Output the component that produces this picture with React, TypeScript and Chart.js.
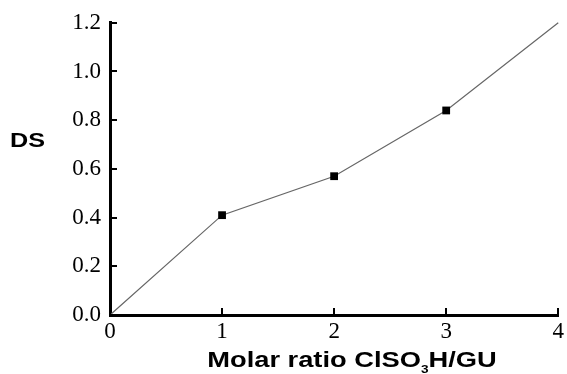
import React, { useEffect, useRef } from "react";
import { Chart, registerables } from "chart.js";

Chart.register(...registerables);

const xValues = [0, 1, 2, 3, 4];
const dsValues = [0, 0.41, 0.57, 0.84, 1.2];
const markerRadii = [0, 5.5, 5.5, 5.5, 0];
const yTicks = [0, 0.2, 0.4, 0.6, 0.8, 1.0, 1.2];
const xTicks = [0, 1, 2, 3, 4];

const SANS = "'Liberation Sans', Arial, sans-serif";

const overlay = {
  id: "overlay",
  afterDraw(chart: any) {
    const ctx = chart.ctx;
    const xs = chart.scales.x;
    const ys = chart.scales.y;
    const area = chart.chartArea;
    ctx.save();
    ctx.strokeStyle = "#000";
    ctx.lineWidth = 2;
    // inward ticks
    yTicks.forEach((v) => {
      const py = Math.round(ys.getPixelForValue(v));
      ctx.beginPath();
      ctx.moveTo(area.left, py);
      ctx.lineTo(area.left + 7, py);
      ctx.stroke();
    });
    xTicks.forEach((v) => {
      const px = Math.round(xs.getPixelForValue(v));
      ctx.beginPath();
      ctx.moveTo(px, area.bottom);
      ctx.lineTo(px, area.bottom - 7);
      ctx.stroke();
    });
    ctx.fillStyle = "#000";
    ctx.textBaseline = "alphabetic";
    ctx.textAlign = "left";
    // y title (horizontal, stretched like the reference)
    ctx.save();
    ctx.translate(10, 147);
    ctx.scale(1.2, 1);
    ctx.font = "bold 21px " + SANS;
    ctx.fillText("DS", 0, 0);
    ctx.restore();
    // x title with subscript
    const sx = 1.24;
    ctx.save();
    ctx.font = "bold 22px " + SANS;
    const p1 = "Molar ratio ClSO";
    const p2 = "H/GU";
    const w1 = ctx.measureText(p1).width;
    const w2 = ctx.measureText(p2).width;
    ctx.font = "bold 11px " + SANS;
    const w3 = ctx.measureText("3").width;
    const total = (w1 + w2 + w3) * sx;
    const x0 = 208 + (288 - total) / 2;
    ctx.translate(x0, 367);
    ctx.scale(sx, 1);
    ctx.font = "bold 22px " + SANS;
    ctx.fillText(p1, 0, 0);
    ctx.font = "bold 11px " + SANS;
    ctx.fillText("3", w1, 6);
    ctx.font = "bold 22px " + SANS;
    ctx.fillText(p2, w1 + w3, 0);
    ctx.restore();
    ctx.restore();
  },
};

export default function App() {
  const ref = useRef<HTMLCanvasElement>(null);
  useEffect(() => {
    document.body.style.margin = "0";
    const chart = new Chart(ref.current!, {
      type: "line",
      data: {
        datasets: [
          {
            data: xValues.map((x, i) => ({ x, y: dsValues[i] })),
            borderColor: "#666",
            borderWidth: 1.2,
            pointStyle: "rect",
            pointRadius: markerRadii,
            pointBackgroundColor: "#000",
            pointBorderColor: "#000",
            pointBorderWidth: 0,
            tension: 0,
            clip: false as any,
          },
        ],
      },
      options: {
        animation: false,
        responsive: false,
        maintainAspectRatio: false,
        layout: { padding: { top: 22, right: 6, left: 0, bottom: 0 } },
        plugins: { legend: { display: false }, tooltip: { enabled: false } },
        scales: {
          x: {
            type: "linear",
            min: 0,
            max: 4,
            afterFit: (s: any) => {
              s.height = 59;
            },
            afterBuildTicks: (s: any) => {
              s.ticks = xTicks.map((v) => ({ value: v }));
            },
            grid: { display: true, drawOnChartArea: false, drawTicks: false },
            border: { display: true, color: "#000", width: 3 },
            ticks: {
              padding: 3,
              color: "#000",
              font: { family: "'Liberation Serif', 'Times New Roman', serif", size: 23 },
              callback: (v: any) => String(v),
            },
          },
          y: {
            type: "linear",
            min: 0,
            max: 1.2,
            afterFit: (s: any) => {
              s.width = 110;
            },
            afterBuildTicks: (s: any) => {
              s.ticks = yTicks.map((v) => ({ value: v }));
            },
            grid: { display: true, drawOnChartArea: false, drawTicks: false },
            border: { display: true, color: "#000", width: 3 },
            ticks: {
              padding: 9,
              color: "#000",
              font: { family: "'Liberation Serif', 'Times New Roman', serif", size: 23 },
              callback: (v: any) => Number(v).toFixed(1),
            },
          },
        },
      },
      plugins: [overlay],
    });
    return () => chart.destroy();
  }, []);
  return (
    <div style={{ width: 567, height: 374, background: "#fff" }}>
      <canvas ref={ref} width={567} height={374} />
    </div>
  );
}
